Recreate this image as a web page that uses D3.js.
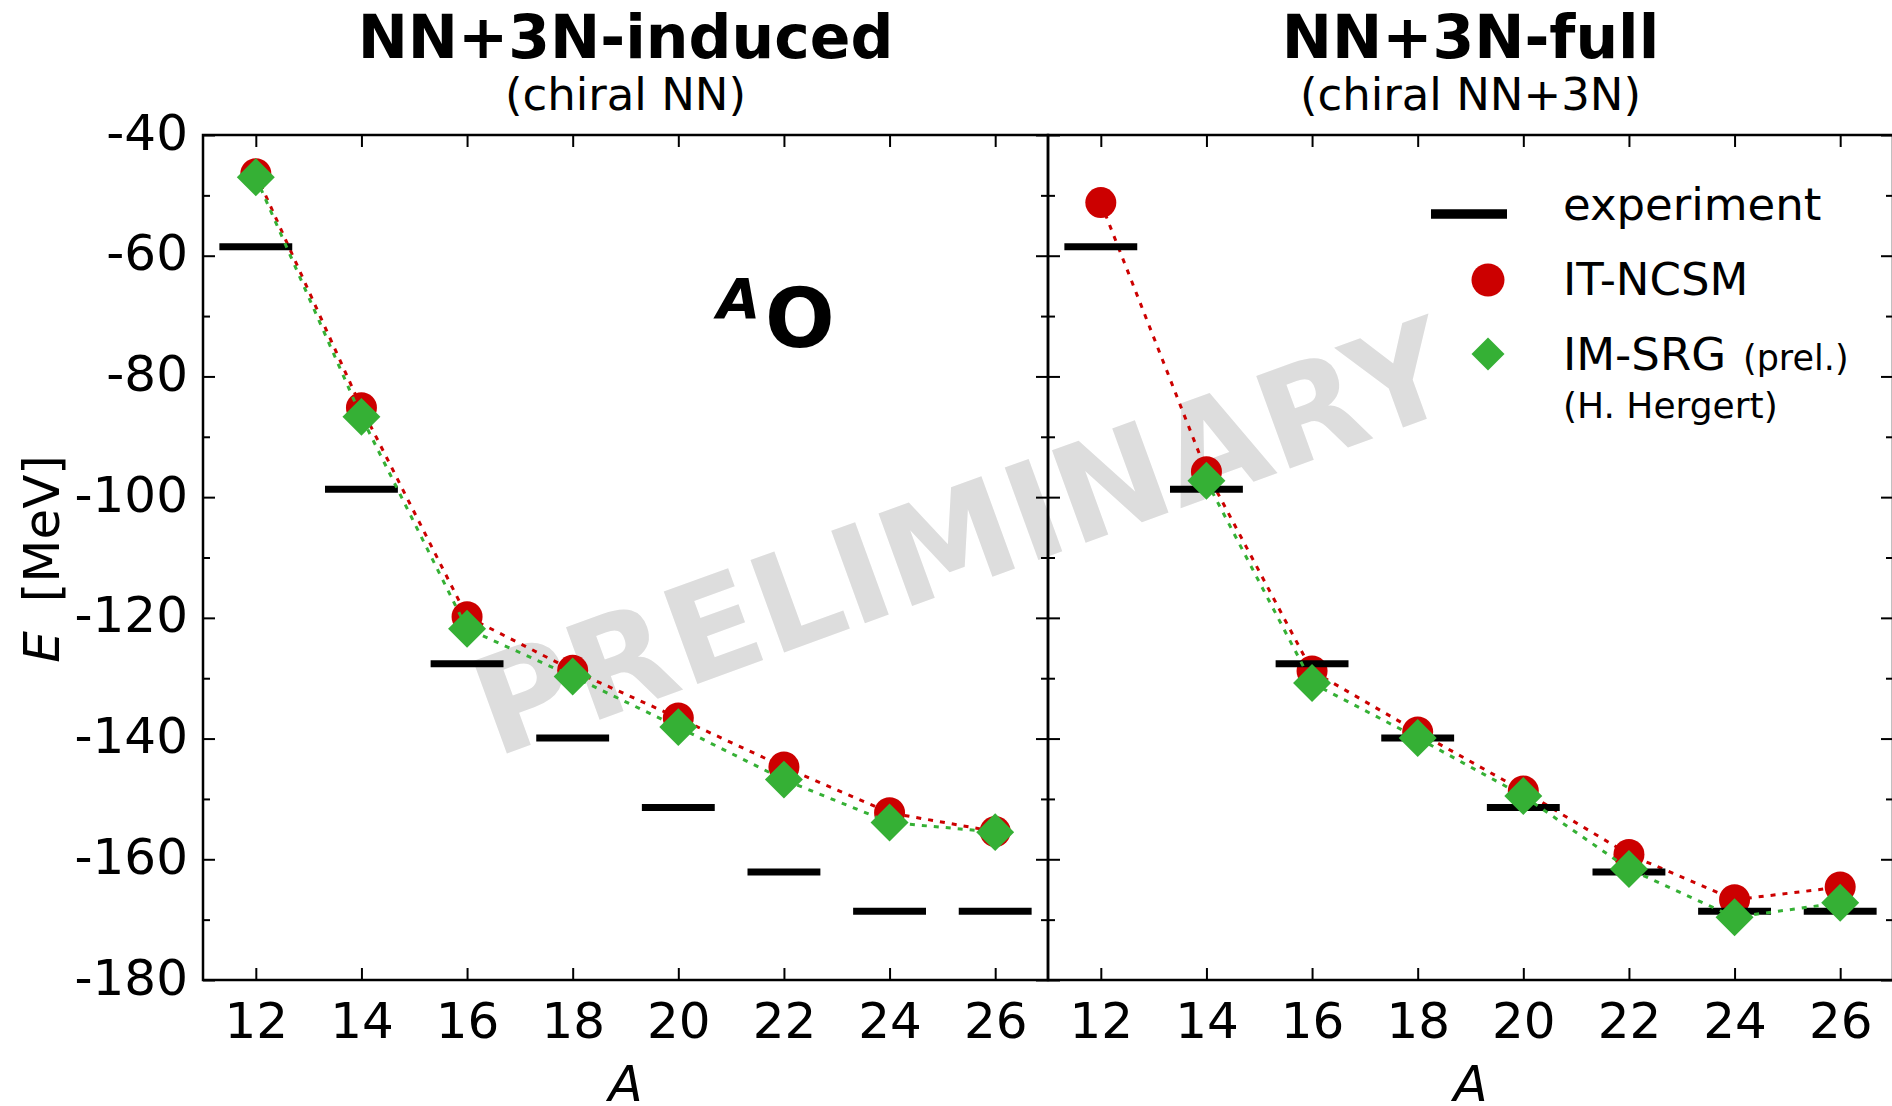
<!DOCTYPE html>
<meta charset="utf-8">
<html lang="en">
<style>

    body {
        margin: 0;
        background: #fff;
    }

    svg text {
        font-family: "DejaVu Sans", sans-serif;
    }

    .axis path {
        display: none;
    }

    .axis line {
        stroke: #000;
        stroke-width: 2px;
    }

    .frame {
        fill: none;
        stroke: #000;
        stroke-width: 2.5px;
    }

</style>

<head>
    <meta charset="UTF-8">
    <script src="https://d3js.org/d3.v7.min.js"></script>
</head>
<body>
<svg width="1892" height="1106"></svg>
</body>
<script>

    // mass numbers A of the oxygen isotopes
    var massNumbers = [12, 14, 16, 18, 20, 22, 24, 26];
    var massNumbersSRGFull = [14, 16, 18, 20, 22, 24, 26];

    // ground-state energies in MeV
    var experiment = [-58.5, -98.7, -127.6, -139.9, -151.4, -162.1, -168.6, -168.6];
    var ncsmInduced = [-46.4, -85.2, -119.8, -128.7, -136.6, -144.7, -152.3, -155.4];
    var srgInduced = [-47.0, -86.7, -121.8, -129.7, -138.1, -146.8, -153.9, -155.5];
    var ncsmFull = [-51.2, -95.8, -128.8, -138.9, -148.7, -159.2, -166.7, -164.6];
    var srgFull = [-97.3, -130.8, -139.9, -149.5, -161.6, -169.6, -167.2];

    var yMajorTicks = [-180, -160, -140, -120, -100, -80, -60, -40];
    var yMinorTicks = [-170, -150, -130, -110, -90, -70, -50];

    var panelTitles = ["NN+3N-induced", "NN+3N-full"];
    var panelSubtitles = ["(chiral NN)", "(chiral NN+3N)"];

    var legendLabels = ["experiment", "IT-NCSM", "IM-SRG"];

    var red = "#cc0000",
        green = "#35b035";

    var margin = {top: 135, left: 203},
        panelWidth = 845,
        height = 845;

    var svg = d3.select("svg");

    function zip(xs, ys) {
        return xs.map(function (a, i) {
            return {a: a, e: ys[i]};
        });
    }

    var panels = [
        {ncsm: zip(massNumbers, ncsmInduced), srg: zip(massNumbers, srgInduced)},
        {ncsm: zip(massNumbers, ncsmFull), srg: zip(massNumbersSRGFull, srgFull)}
    ];
    var expData = zip(massNumbers, experiment);

    // PRELIMINARY watermark sits behind everything
    svg.append("text")
        .attr("transform", "translate(978,582) rotate(-20)")
        .attr("text-anchor", "middle")
        .style("font-weight", "bold")
        .style("font-size", "135px")
        .style("fill", "#dddddd")
        .text("PRELIMINARY");

    panels.forEach(function (p, k) {
        var x = d3.scaleLinear().domain([11, 27]).range([0, panelWidth]);
        var y = d3.scaleLinear().domain([-180, -40]).range([height, 0]);

        var g = svg.append("g")
            .attr("transform", "translate(" + (margin.left + k * panelWidth) + "," + margin.top + ")");

        // titles
        g.append("text")
            .attr("x", panelWidth / 2)
            .attr("y", 58 - margin.top)
            .attr("text-anchor", "middle")
            .style("font-weight", "bold")
            .style("font-size", "60px")
            .text(panelTitles[k]);

        g.append("text")
            .attr("x", panelWidth / 2)
            .attr("y", 110 - margin.top)
            .attr("text-anchor", "middle")
            .style("font-size", "45px")
            .text(panelSubtitles[k]);

        // axes, ticks pointing inward on all four sides
        var bottom = g.append("g")
            .attr("class", "axis")
            .attr("transform", "translate(0," + height + ")")
            .call(d3.axisBottom(x).tickValues(massNumbers).tickSize(-12).tickPadding(22).tickSizeOuter(0));
        bottom.selectAll("text").style("font-size", "50px").style("font-family", "DejaVu Sans");

        g.append("g")
            .attr("class", "axis")
            .call(d3.axisTop(x).tickValues(massNumbers).tickSize(-12).tickFormat("").tickSizeOuter(0));

        var left = g.append("g")
            .attr("class", "axis")
            .call(d3.axisLeft(y).tickValues(yMajorTicks).tickSize(-12).tickPadding(15).tickSizeOuter(0)
                .tickFormat(function (d) { return k === 0 ? d : ""; }));
        left.selectAll("text")
            .style("font-size", "50px")
            .style("font-family", "DejaVu Sans")
            .attr("dy", "0.28em");

        g.append("g")
            .attr("class", "axis")
            .call(d3.axisLeft(y).tickValues(yMinorTicks).tickSize(-7).tickFormat("").tickSizeOuter(0));

        g.append("g")
            .attr("class", "axis")
            .attr("transform", "translate(" + panelWidth + ",0)")
            .call(d3.axisRight(y).tickValues(yMajorTicks).tickSize(-12).tickFormat("").tickSizeOuter(0));

        g.append("g")
            .attr("class", "axis")
            .attr("transform", "translate(" + panelWidth + ",0)")
            .call(d3.axisRight(y).tickValues(yMinorTicks).tickSize(-7).tickFormat("").tickSizeOuter(0));

        g.append("rect")
            .attr("class", "frame")
            .attr("width", panelWidth)
            .attr("height", height);

        // x label
        g.append("text")
            .attr("x", x(19))
            .attr("y", 1101 - margin.top)
            .attr("text-anchor", "middle")
            .style("font-style", "italic")
            .style("font-size", "50px")
            .text("A");

        var line = d3.line()
            .x(function (d) { return x(d.a); })
            .y(function (d) { return y(d.e); });

        // IT-NCSM
        g.append("path")
            .datum(p.ncsm)
            .attr("d", line)
            .style("fill", "none")
            .style("stroke", red)
            .style("stroke-width", 3)
            .style("stroke-dasharray", "5,7");

        g.selectAll(".ncsm")
            .data(p.ncsm)
            .enter().append("circle")
            .attr("class", "ncsm")
            .attr("cx", function (d) { return x(d.a); })
            .attr("cy", function (d) { return y(d.e); })
            .attr("r", 15.5)
            .style("fill", red);

        // experiment bars
        g.selectAll(".exp")
            .data(expData)
            .enter().append("line")
            .attr("class", "exp")
            .attr("x1", function (d) { return x(d.a - 0.69); })
            .attr("x2", function (d) { return x(d.a + 0.69); })
            .attr("y1", function (d) { return y(d.e); })
            .attr("y2", function (d) { return y(d.e); })
            .style("stroke", "#000")
            .style("stroke-width", 7);

        // IM-SRG
        g.append("path")
            .datum(p.srg)
            .attr("d", line)
            .style("fill", "none")
            .style("stroke", green)
            .style("stroke-width", 3)
            .style("stroke-dasharray", "5,7");

        g.selectAll(".srg")
            .data(p.srg)
            .enter().append("path")
            .attr("class", "srg")
            .attr("d", d3.symbol().type(d3.symbolSquare).size(720))
            .attr("transform", function (d) {
                return "translate(" + x(d.a) + "," + y(d.e) + ") rotate(45)";
            })
            .style("fill", green);
    });

    // y label
    var ylab = svg.append("text")
        .attr("transform", "translate(59,559) rotate(-90)")
        .attr("text-anchor", "middle")
        .style("font-size", "50px");
    ylab.append("tspan").style("font-style", "italic").text("E");
    ylab.append("tspan").attr("dx", 29).text("[MeV]");

    // A-O label
    svg.append("text")
        .attr("x", 717)
        .attr("y", 318)
        .style("font-weight", "bold")
        .style("font-style", "italic")
        .style("font-size", "56px")
        .text("A");
    svg.append("text")
        .attr("x", 765)
        .attr("y", 347)
        .style("font-weight", "bold")
        .style("font-size", "82px")
        .text("O");

    // legend
    var legend = svg.append("g");
    legend.append("line")
        .attr("x1", 1431).attr("x2", 1507)
        .attr("y1", 214).attr("y2", 214)
        .style("stroke", "#000")
        .style("stroke-width", 9.5);
    legend.append("circle")
        .attr("cx", 1488).attr("cy", 280)
        .attr("r", 16.5)
        .style("fill", red);
    legend.append("path")
        .attr("d", d3.symbol().type(d3.symbolSquare).size(545))
        .attr("transform", "translate(1488,354) rotate(45)")
        .style("fill", green);

    legend.selectAll(".legtext")
        .data(legendLabels)
        .enter().append("text")
        .attr("class", "legtext")
        .attr("x", 1563)
        .attr("y", function (d, i) { return 220 + i * 75; })
        .style("font-size", "45px")
        .text(function (d) { return d; });

    legend.append("text")
        .attr("x", 1743)
        .attr("y", 370)
        .style("font-size", "35px")
        .text("(prel.)");
    legend.append("text")
        .attr("x", 1563)
        .attr("y", 418)
        .style("font-size", "36px")
        .text("(H. Hergert)");

</script>

</html>
